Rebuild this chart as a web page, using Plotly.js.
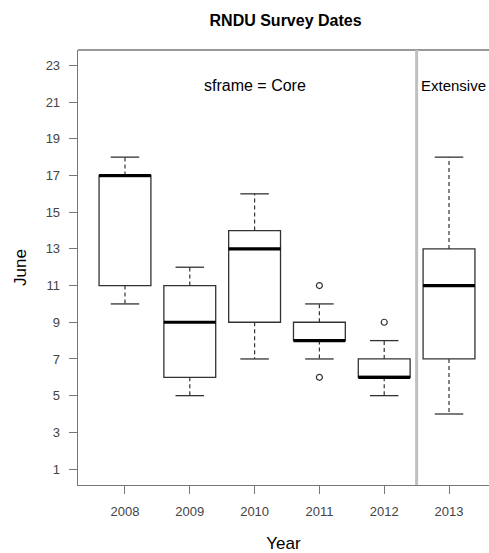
<!DOCTYPE html>
<html>
<head>
<meta charset="utf-8">
<script src="https://cdn.plot.ly/plotly-3.0.1.min.js"></script>
<style>
  html, body { margin: 0; padding: 0; background: #fff; }
  #chart { width: 489px; height: 553px; }
</style>
</head>
<body>
<div id="chart"></div>
<script>
// Survey dates (day of June) by year, summarised as box statistics
const years      = ['2008', '2009', '2010', '2011', '2012', '2013'];
const lowerWhisk = [10, 5, 7, 7, 5, 4];
const q1         = [11, 6, 9, 8, 6, 7];
const medians    = [17, 9, 13, 8, 6, 11];
const q3         = [17, 11, 14, 9, 7, 13];
const upperWhisk = [18, 12, 16, 10, 8, 18];

// Points beyond the whiskers
const outlierYear = ['2011', '2011', '2012'];
const outlierDay  = [11, 6, 9];

const yTicks = [1, 3, 5, 7, 9, 11, 13, 15, 17, 19, 21, 23];

// Sampling frames: 2008-2012 are Core, 2013 is Extensive
const coreYears = ['2008', '2009', '2010', '2011', '2012'];

const pos = years.map((_, i) => i + 1);
const posOf = y => years.indexOf(y) + 1;
const boxHalf = 0.4;
const capHalf = 0.22;
const dividerX = coreYears.length + 0.5;
const coreCenter = (1 + coreYears.length) / 2;

const FONT = 'Liberation Sans, Arial, sans-serif';
const boxColor = '#333333';

// segments helper: builds [a, b, null, ...] arrays for line traces
function segs(fn) {
  const xs = [], ys = [];
  pos.forEach((p, i) => {
    fn(p, i).forEach(s => {
      xs.push(s[0][0], s[1][0], null);
      ys.push(s[0][1], s[1][1], null);
    });
  });
  return { xs, ys };
}

const whisk = segs((p, i) => [
  [[p, q3[i]], [p, upperWhisk[i]]],
  [[p, q1[i]], [p, lowerWhisk[i]]]
]);
const caps = segs((p, i) => [
  [[p - capHalf, upperWhisk[i]], [p + capHalf, upperWhisk[i]]],
  [[p - capHalf, lowerWhisk[i]], [p + capHalf, lowerWhisk[i]]]
]);
const meds = segs((p, i) => [
  [[p - boxHalf, medians[i]], [p + boxHalf, medians[i]]]
]);

const traces = [
  {
    type: 'box',
    x: pos,
    q1: q1,
    median: medians,
    q3: q3,
    lowerfence: q1,
    upperfence: q3,
    width: boxHalf * 2,
    whiskerwidth: 0,
    boxpoints: false,
    fillcolor: '#ffffff',
    line: { color: boxColor, width: 1.3 },
    hoverinfo: 'skip',
    showlegend: false
  },
  {
    type: 'scatter', mode: 'lines',
    x: whisk.xs, y: whisk.ys,
    line: { color: boxColor, width: 1.2, dash: '4px,3px' },
    hoverinfo: 'skip', showlegend: false
  },
  {
    type: 'scatter', mode: 'lines',
    x: caps.xs, y: caps.ys,
    line: { color: boxColor, width: 1.3 },
    hoverinfo: 'skip', showlegend: false
  },
  {
    type: 'scatter', mode: 'lines',
    x: meds.xs, y: meds.ys,
    line: { color: '#000000', width: 3.2 },
    hoverinfo: 'skip', showlegend: false
  },
  {
    type: 'scatter', mode: 'markers',
    x: outlierYear.map(posOf), y: outlierDay,
    marker: { symbol: 'circle-open', size: 6, color: boxColor, line: { width: 1.2 } },
    hoverinfo: 'skip', showlegend: false
  }
];

const layout = {
  width: 489,
  height: 553,
  margin: { l: 78, r: 0, t: 50, b: 68 },
  paper_bgcolor: '#ffffff',
  plot_bgcolor: '#ffffff',
  font: { family: FONT, color: '#000' },
  title: {
    text: '<b>RNDU Survey Dates</b>',
    font: { family: FONT, size: 16, color: '#000' },
    x: 0.584, xref: 'container', xanchor: 'center',
    y: 0.964, yref: 'container', yanchor: 'middle'
  },
  xaxis: {
    range: [0.275, 6.617],
    tickmode: 'array',
    tickvals: pos,
    ticktext: years,
    ticks: 'outside', ticklen: 8, tickwidth: 1, tickcolor: '#777',
    ticklabelstandoff: 6,
    tickfont: { family: FONT, size: 13, color: '#444' },
    showline: true, linecolor: '#777', linewidth: 1.3,
    showgrid: false, zeroline: false, fixedrange: true,
    title: { text: 'Year', font: { family: FONT, size: 17, color: '#000' }, standoff: 20 }
  },
  yaxis: {
    range: [0.13, 23.84],
    tickmode: 'array',
    tickvals: yTicks,
    ticktext: yTicks.map(String),
    ticks: 'outside', ticklen: 8, tickwidth: 1, tickcolor: '#777',
    ticklabelstandoff: 6,
    tickfont: { family: FONT, size: 13, color: '#444' },
    showline: true, linecolor: '#777', linewidth: 1.3,
    showgrid: false, zeroline: false, fixedrange: true,
    title: { text: 'June', font: { family: FONT, size: 17, color: '#000' }, standoff: 14 }
  },
  shapes: [
    // top edge of the frame
    { type: 'line', xref: 'paper', yref: 'paper', x0: 0, x1: 1, y0: 1, y1: 1,
      line: { color: '#777', width: 1.3 } },
    // divider between the Core and Extensive panels
    { type: 'line', xref: 'x', yref: 'paper', x0: dividerX, x1: dividerX, y0: 0, y1: 1,
      line: { color: '#c0c0c0', width: 3 } }
  ],
  annotations: [
    { text: 'sframe = Core', x: coreCenter, y: 21.9, xref: 'x', yref: 'y',
      xanchor: 'center', yanchor: 'middle', showarrow: false,
      font: { family: FONT, size: 16, color: '#000' } },
    { text: 'Extensive', x: dividerX, y: 21.9, xref: 'x', yref: 'y',
      xanchor: 'left', yanchor: 'middle', xshift: 2, showarrow: false,
      font: { family: FONT, size: 15, color: '#000' } }
  ]
};

Plotly.newPlot('chart', traces, layout, { displayModeBar: false, staticPlot: true });
</script>
</body>
</html>
